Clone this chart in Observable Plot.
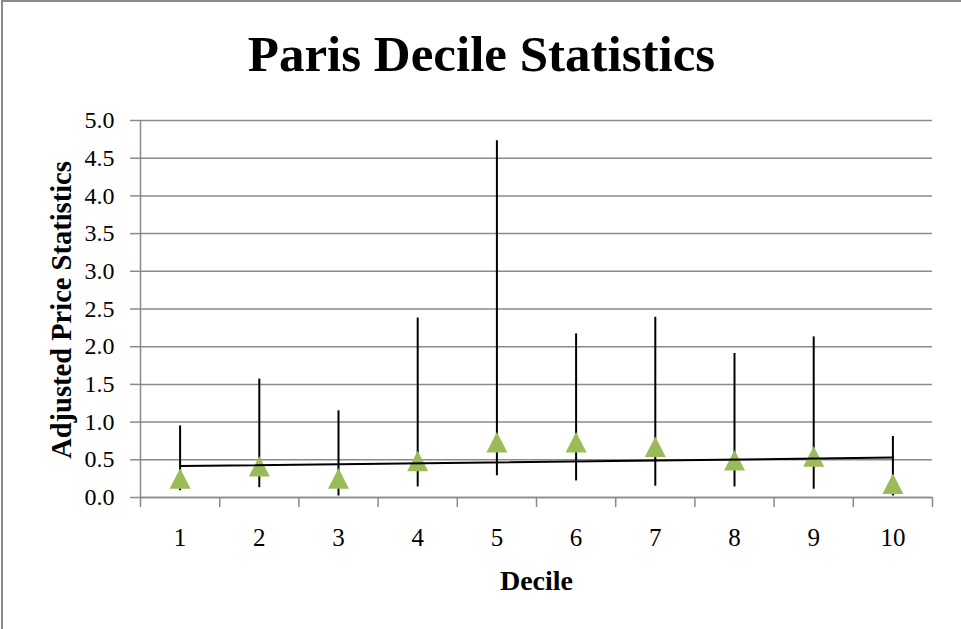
<!DOCTYPE html>
<html>
<head>
<meta charset="utf-8">
<script src="https://cdn.jsdelivr.net/npm/d3@7"></script>
<script src="https://cdn.jsdelivr.net/npm/@observablehq/plot@0.6"></script>
<style>
  html, body { margin: 0; padding: 0; background: white; }
  #wrap { position: relative; width: 961px; height: 629px; overflow: hidden; }
  #border { position: absolute; left: 1px; top: 0; width: 1000px; height: 700px;
            border-top: 2px solid #8a8a8a; border-left: 2px solid #8a8a8a; pointer-events: none; }
</style>
</head>
<body>
<div id="wrap"><div id="border"></div></div>
<script>
const title = "Paris Decile Statistics";
const xTitle = "Decile";
const yTitle = "Adjusted Price Statistics";
const deciles = [1, 2, 3, 4, 5, 6, 7, 8, 9, 10];
const means = [0.25, 0.41, 0.25, 0.48, 0.73, 0.73, 0.67, 0.49, 0.54, 0.18];
const highs = [0.95, 1.57, 1.15, 2.38, 4.73, 2.17, 2.39, 1.91, 2.13, 0.81];
const lows  = [0.09, 0.13, 0.02, 0.14, 0.29, 0.22, 0.15, 0.14, 0.11, 0.02];
const yTicks = [0, 0.5, 1, 1.5, 2, 2.5, 3, 3.5, 4, 4.5, 5];
const xBoundaries = [0.5, 1.5, 2.5, 3.5, 4.5, 5.5, 6.5, 7.5, 8.5, 9.5, 10.5];

const gray = "#8a8a8a";
const green = "#9BBB59";
const triangle = {
  draw(ctx, size) {
    ctx.moveTo(0, -10.5);
    ctx.lineTo(10.5, 10);
    ctx.lineTo(-10.5, 10);
    ctx.closePath();
  }
};

const chart = Plot.plot({
  width: 961,
  height: 629,
  marginLeft: 140,
  marginRight: 29,
  marginTop: 120,
  marginBottom: 132,
  style: { fontFamily: "Liberation Serif", background: "white", color: "black", overflow: "visible" },
  x: { domain: [0.5, 10.5] },
  y: { domain: [0, 5] },
  marks: [
    Plot.gridY(yTicks, { stroke: gray, strokeOpacity: 1, strokeWidth: 1.5 }),
    Plot.axisY(yTicks, {
      tickSize: 10, tickPadding: 16, tickFormat: d3.format(".1f"),
      fontSize: 24, stroke: gray, strokeWidth: 1.5, fill: "black", label: null
    }),
    Plot.ruleX([0.5], { stroke: gray, strokeWidth: 1.5 }),
    Plot.axisX(xBoundaries, {
      tickSize: 10, tickFormat: () => "", stroke: gray, strokeWidth: 1.5, label: null
    }),
    Plot.axisX(deciles, {
      tickSize: 0, tickPadding: 31, fontSize: 25, fill: "black", label: null
    }),
    Plot.ruleY([0], { stroke: gray, strokeWidth: 1.5 }),
    Plot.ruleX(deciles, { x: deciles, y1: lows, y2: highs, stroke: "black", strokeWidth: 2 }),
    Plot.dot(deciles, { x: deciles, y: means, symbol: triangle, fill: green, stroke: null }),
    Plot.linearRegressionY(deciles, { x: deciles, y: means, ci: 0, stroke: "black", strokeWidth: 2 }),
    Plot.text([title], {
      frameAnchor: "top", dx: -55, dy: -50, lineAnchor: "bottom",
      fontSize: 51, fontWeight: "bold", fill: "black"
    }),
    Plot.text([xTitle], {
      frameAnchor: "bottom", dy: 92, lineAnchor: "bottom",
      fontSize: 28, fontWeight: "bold", fill: "black"
    }),
    Plot.text([yTitle], {
      frameAnchor: "left", dx: -79, dy: 1, rotate: -90, textAnchor: "middle", lineAnchor: "middle",
      fontSize: 28.5, fontWeight: "bold", fill: "black"
    })
  ]
});
chart.style.position = "absolute";
chart.style.left = "0";
chart.style.top = "0";
document.getElementById("wrap").insertBefore(chart, document.getElementById("border"));
</script>
</body>
</html>
